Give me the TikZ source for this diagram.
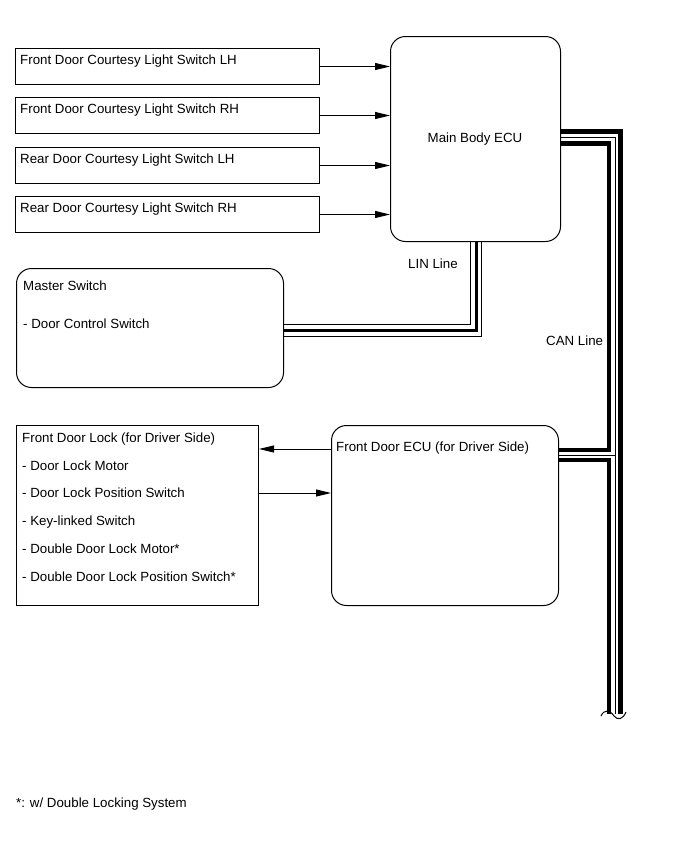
\documentclass[tikz,border=0pt]{standalone}
\usepackage{fontspec}
\setmainfont{Liberation Sans}
\usetikzlibrary{arrows.meta}

\tikzset{
  swbox/.style={draw, line width=1pt, anchor=north west, minimum width=304pt, minimum height=36pt, inner sep=0pt},
  ecubox/.style={draw, line width=1pt, rounded corners=15pt, anchor=north west, inner sep=0pt},
  txt/.style={anchor=base west, inner sep=0pt},
  sig/.style={-{Triangle[length=15pt,width=7pt]}, line width=1pt},
  wthin/.style={line width=1pt},
  wthick/.style={line width=4.2pt},
}

\begin{document}
\begin{tikzpicture}[x=1pt,y=-1pt,font=\fontsize{13.3}{16}\selectfont]
  \useasboundingbox (0,0) rectangle (689,846);

  % courtesy light switches
  \node[swbox] (fl) at (15,48) {};
  \node[swbox] (fr) at (15,97) {};
  \node[swbox] (rl) at (15,147) {};
  \node[swbox] (rr) at (15,196) {};
  \node[txt] (flt) at ([xshift=5pt,yshift=-16pt]fl.north west) {Front Door Courtesy Light Switch LH};
  \node[txt] (frt) at ([xshift=5pt,yshift=-16pt]fr.north west) {Front Door Courtesy Light Switch RH};
  \node[txt] (rlt) at ([xshift=5pt,yshift=-16pt]rl.north west) {Rear Door Courtesy Light Switch LH};
  \node[txt] (rrt) at ([xshift=5pt,yshift=-16pt]rr.north west) {Rear Door Courtesy Light Switch RH};

  % ECUs and switches
  \node[ecubox, minimum width=170pt, minimum height=205pt] (mbody) at (390,36) {};
  \node[anchor=base, inner sep=0pt] (mbodyt) at (475,142) {Main Body ECU};
  \node[ecubox, minimum width=267pt, minimum height=119pt] (master) at (16,268) {};
  \node[txt] (mastert) at (23,290) {Master Switch};
  \node[txt] (masters) at (23,328) {- Door Control Switch};
  \node[swbox, minimum width=242pt, minimum height=180pt] (lock) at (16,425) {};
  \node[ecubox, minimum width=227pt, minimum height=180pt] (fdecu) at (331,425) {};
  \node[txt] (fdecut) at (336,451) {Front Door ECU (for Driver Side)};

  \node[txt] (lock1) at (22,442) {Front Door Lock (for Driver Side)};
  \node[txt] (lock2) at (22,470) {- Door Lock Motor};
  \node[txt] (lock3) at (22,497) {- Door Lock Position Switch};
  \node[txt] (lock4) at (22,525) {- Key-linked Switch};
  \node[txt] (lock5) at (22,553) {- Double Door Lock Motor*};
  \node[txt] (lock6) at (22,581) {- Double Door Lock Position Switch*};

  % signal arrows
  \draw[sig] (fl.east) -- (fl.east -| mbody.west);
  \draw[sig] (fr.east) -- (fr.east -| mbody.west);
  \draw[sig] (rl.east) -- (rl.east -| mbody.west);
  \draw[sig] (rr.east) -- (rr.east -| mbody.west);
  \coordinate (fdout) at ([yshift=-24pt]fdecu.north west);
  \coordinate (lkout) at ([yshift=-68pt]lock.north east);
  \draw[sig] (fdout) -- (fdout -| lock.east);
  \draw[sig] (lkout) -- (lkout -| fdecu.west);

  % LIN bus
  \draw[wthin] ([xshift=-5pt]mbody.south) |- ([yshift=3.5pt]master.east);
  \draw[wthick, line width=3.8pt] ([xshift=1pt]mbody.south) |- ([yshift=-2.5pt]master.east);
  \draw[wthin] ([xshift=6pt]mbody.south) |- ([yshift=-8.5pt]master.east);
  \node[txt] (lint) at (408,268) {LIN Line};

  % CAN bus
  \coordinate (canL) at (609,714);
  \coordinate (canM) at (615,714);
  \coordinate (canR) at (620.5,714);
  \coordinate (fdtop) at ([yshift=-25pt]fdecu.north east);
  \coordinate (fdmid) at ([yshift=-30pt]fdecu.north east);
  \coordinate (fdbot) at ([yshift=-35pt]fdecu.north east);
  \draw[wthick] ([yshift=7.5pt]mbody.east) -| (canR);
  \draw[wthin] ([yshift=1.5pt]mbody.east) -| (canM);
  \draw[wthick] ([yshift=-4.5pt]mbody.east) -| (canL |- fdtop) -- (fdtop);
  \draw[wthin] (fdmid) -- (fdmid -| canM);
  \draw[wthick] (fdbot) -| (canL);
  \node[txt] (cant) at (546,345) {CAN Line};

  % break mark
  \draw[wthin] (601,716) .. controls (604,709) and (610,710) .. (614,716)
    .. controls (618,721) and (623,719) .. (626,712);

  \node[txt] (note) at (16,807) {*: w/ Double Locking System};
\end{tikzpicture}
\end{document}
